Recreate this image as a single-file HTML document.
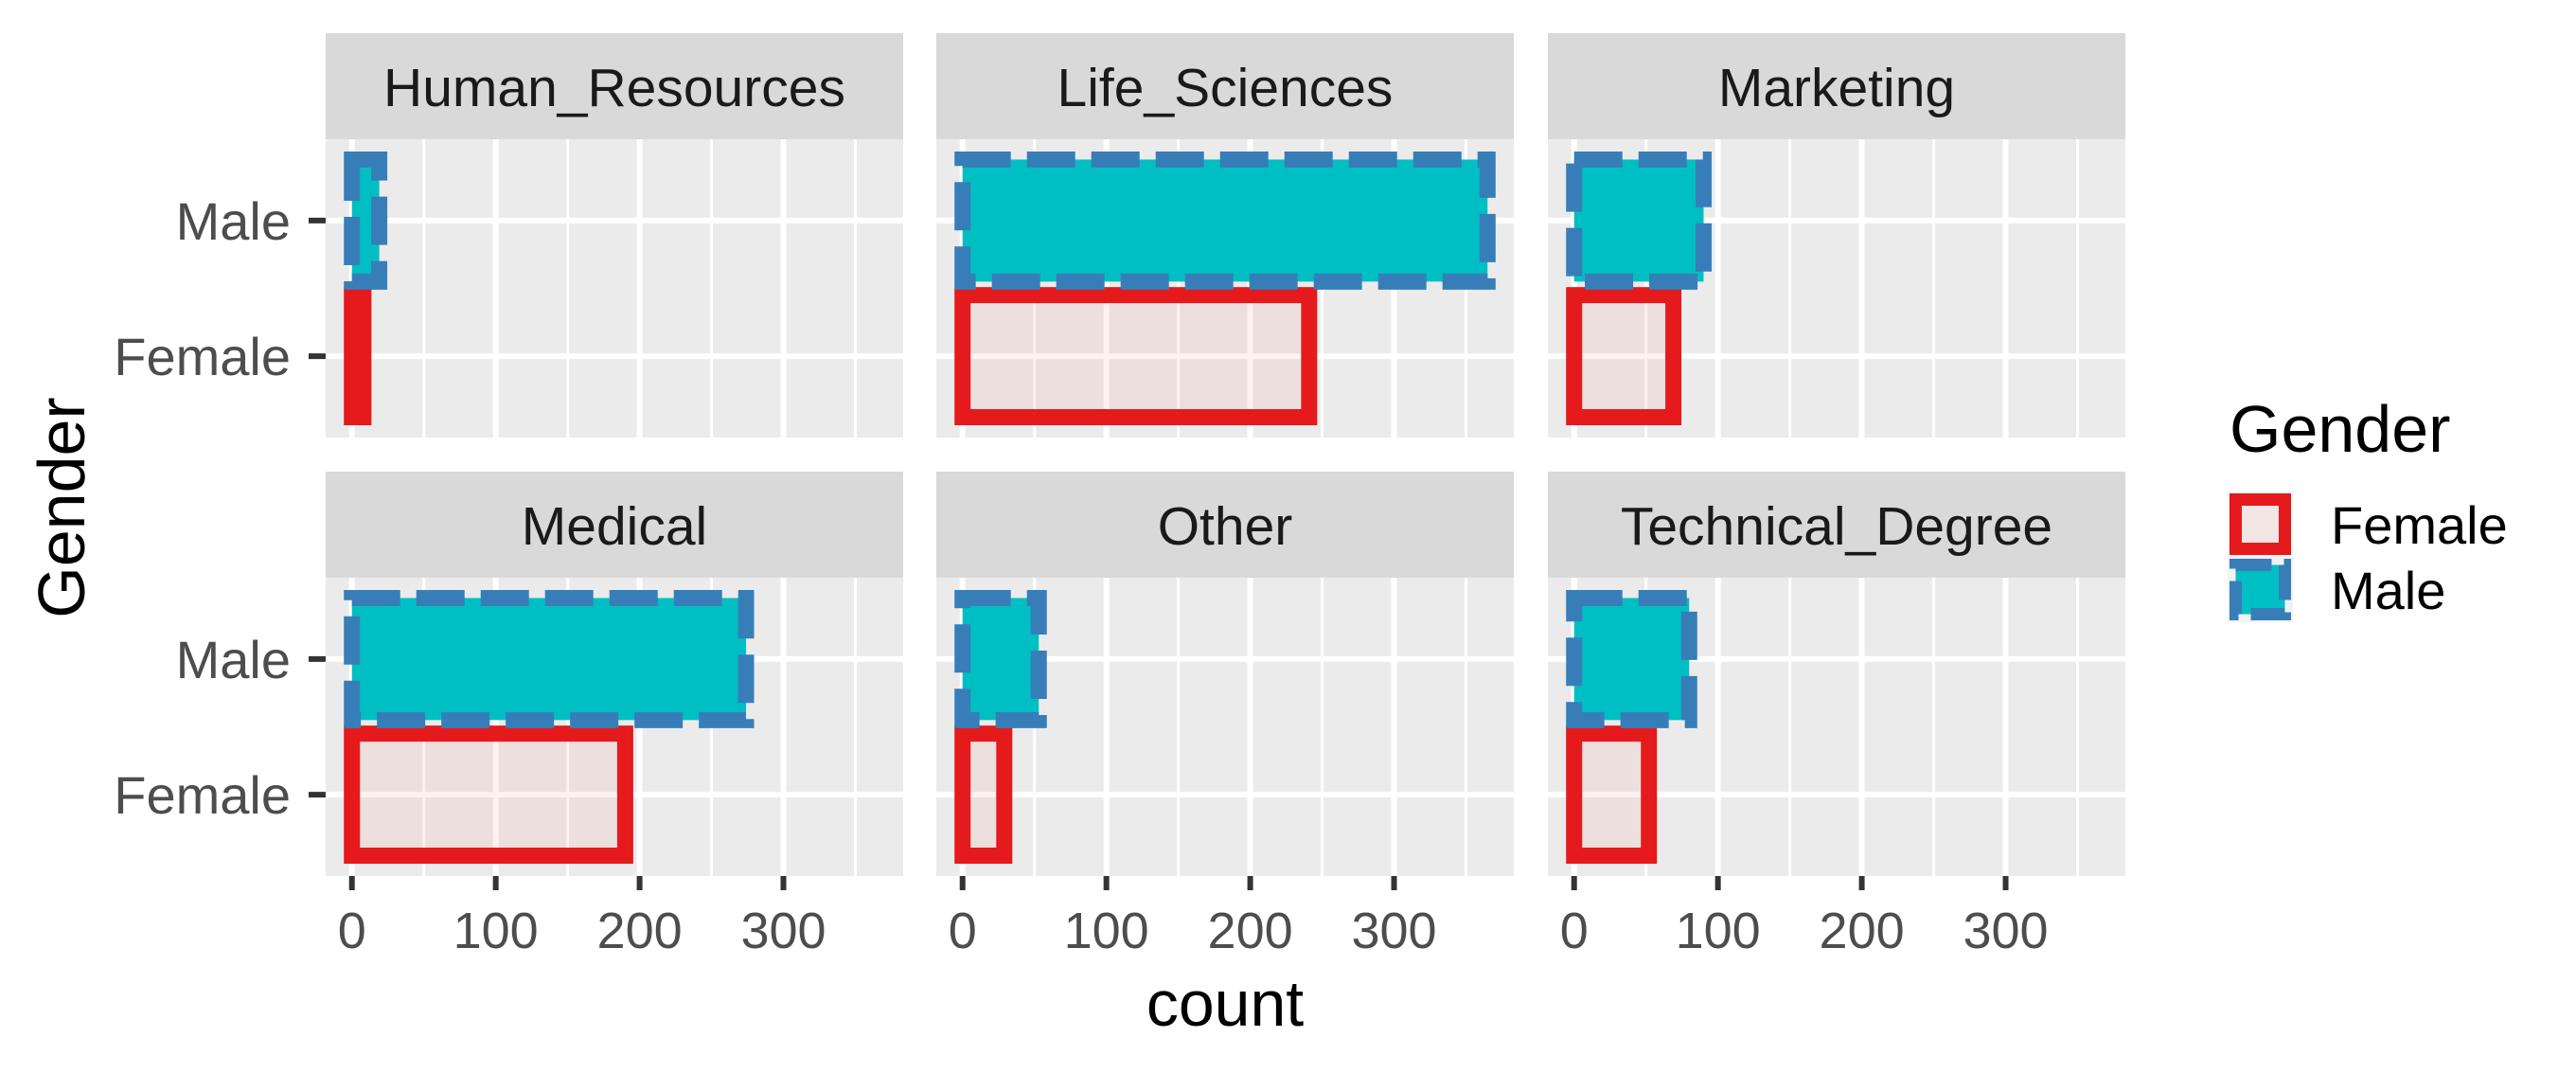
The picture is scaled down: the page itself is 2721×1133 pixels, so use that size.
<!DOCTYPE html>
<html><head><meta charset="utf-8"><style>
html,body{margin:0;padding:0;background:#fff;}
svg{display:block;font-family:"Liberation Sans",sans-serif;}
</style></head><body>
<svg id="chart" width="2721" height="1133" viewBox="0 0 2721 1133" xmlns="http://www.w3.org/2000/svg">
<text x="89" y="536" font-size="70" fill="#000" text-anchor="middle" transform="rotate(-90 89 536)">Gender</text>
<text x="1294" y="1083" font-size="68" fill="#000" text-anchor="middle">count</text>
<g>
<text x="2355" y="477" font-size="70" fill="#000">Gender</text>
<rect x="2353" y="519" width="69" height="138" fill="#F2F2F2"/>
<g>
<rect x="2361.5" y="527.5" width="52" height="52" fill="rgba(248,118,109,0.1)" stroke="#E41A1C" stroke-width="13"/>
<text x="2462" y="574" font-size="56" fill="#000">Female</text>
</g>
<g>
<rect x="2361.5" y="596.5" width="52" height="52" fill="#00BFC4" stroke="#377EB8" stroke-width="13" stroke-dasharray="38 13"/>
<text x="2462" y="643" font-size="56" fill="#000">Male</text>
</g>
</g>
<g id="panels"></g>
</svg>
<script>
const facets = ["Human_Resources","Life_Sciences","Marketing","Medical","Other","Technical_Degree"];
const genders = ["Female","Male"];
const femaleCounts = [8, 241, 69, 190, 29, 52];
const maleCounts = [19, 365, 90, 274, 53, 80];
const xTicks = [0, 100, 200, 300];
const xMinor = [50, 150, 250, 350];

const NS = "http://www.w3.org/2000/svg";
const root = document.getElementById("panels");
const panelLefts = [344, 989, 1635];
const panelTops = [147, 610];
const PW = 610, PH = 315, STRIP = 112;
const xMax = Math.max(...femaleCounts, ...maleCounts);
const lo = -0.05 * xMax, hi = 1.05 * xMax;
function xs(v, left){ return left + (v - lo) / (hi - lo) * PW; }
function ys(i, top){ const pos = i + 1; return top + PH - (pos - 0.4) / 2.2 * PH; }
const bandH = 0.9 * PH / 2.2;

function el(tag, attrs, parent){
  const e = document.createElementNS(NS, tag);
  for (const k in attrs) e.setAttribute(k, attrs[k]);
  parent.appendChild(e);
  return e;
}

facets.forEach((f, idx) => {
  const col = idx % 3, row = Math.floor(idx / 3);
  const L = panelLefts[col], T = panelTops[row];
  const g = el("g", {}, root);
  
  
  const strip = el("rect", {x: L, y: T - STRIP, width: PW, height: STRIP, fill: "#D9D9D9"}, g);
  
  
  const st = el("text", {x: L + PW / 2, y: T - STRIP / 2 + 21, "font-size": 57, fill: "#1A1A1A", "text-anchor": "middle"}, g);
  st.textContent = f;
  
  
  const bg = el("rect", {x: L, y: T, width: PW, height: PH, fill: "#EBEBEB"}, g);
  
  
  xMinor.forEach(v => {
    const x = xs(v, L);
    if (x < L + PW) el("line", {x1: x, x2: x, y1: T, y2: T + PH, stroke: "#fff", "stroke-width": 3}, g);
  });
  xTicks.forEach(v => {
    const x = xs(v, L);
    el("line", {x1: x, x2: x, y1: T, y2: T + PH, stroke: "#fff", "stroke-width": 6}, g);
  });
  genders.forEach((gn, i) => {
    const y = ys(i, T);
    el("line", {x1: L, x2: L + PW, y1: y, y2: y, stroke: "#fff", "stroke-width": 6}, g);
  });
  const fv = femaleCounts[idx], mv = maleCounts[idx];
  const x0 = xs(0, L);
  const fb = el("rect", {x: x0, y: ys(0, T) - bandH / 2, width: xs(fv, L) - x0, height: bandH,
    fill: "rgba(248,118,109,0.1)", stroke: "#E41A1C", "stroke-width": 17}, g);
  
  
  const mb = el("rect", {x: x0, y: ys(1, T) - bandH / 2, width: xs(mv, L) - x0, height: bandH,
    fill: "#00BFC4", stroke: "#377EB8", "stroke-width": 17, "stroke-dasharray": "51 17"}, g);
  
  
  if (col === 0) {
    genders.forEach((gn, i) => {
      const y = ys(i, T);
      el("line", {x1: L - 18, x2: L, y1: y, y2: y, stroke: "#333", "stroke-width": 6}, g);
      const t = el("text", {x: L - 37, y: y + 20, "font-size": 56, fill: "#4D4D4D", "text-anchor": "end"}, g);
      t.textContent = gn;
      
      
    });
  }
  if (row === 1) {
    xTicks.forEach(v => {
      const x = xs(v, L);
      el("line", {x1: x, x2: x, y1: T + PH, y2: T + PH + 15, stroke: "#333", "stroke-width": 6}, g);
      const t = el("text", {x: x, y: 1001, "font-size": 54, fill: "#4D4D4D", "text-anchor": "middle"}, g);
      t.textContent = String(v);
      
      
    });
  }
});
</script>
</body></html>
